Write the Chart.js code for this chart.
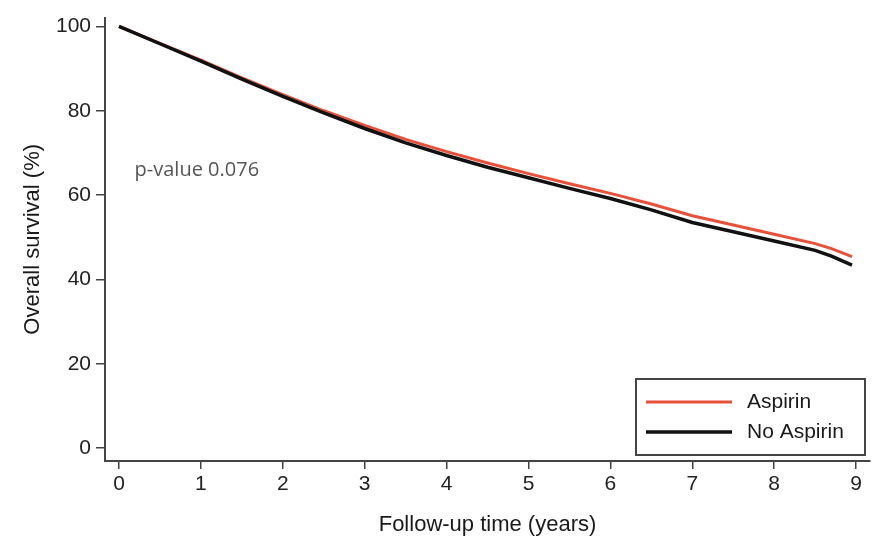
<!DOCTYPE html>
<html>
<head>
<meta charset="utf-8">
<script src="https://cdn.jsdelivr.net/npm/chart.js@4.4.1/dist/chart.umd.min.js"></script>
<style>
  html, body { margin: 0; padding: 0; background: #fff; }
  #wrap { width: 872px; height: 543px; }
</style>
</head>
<body>
<div id="wrap"><canvas id="survChart" width="872" height="543"></canvas></div>
<script>
// Supervivencia global por grupo
const years = [0, 0.5, 1, 1.5, 2, 2.5, 3, 3.5, 4, 4.5, 5, 5.5, 6, 6.5, 7, 7.5, 8, 8.5, 8.7, 8.95];
const aspirin = [100, 96, 92, 87.8, 83.8, 80, 76.5, 73.2, 70.3, 67.6, 65.1, 62.7, 60.4, 57.9, 55.1, 52.9, 50.7, 48.5, 47.3, 45.4];
const noAspirin = [100, 95.9, 91.8, 87.5, 83.4, 79.5, 75.8, 72.4, 69.4, 66.6, 64.1, 61.6, 59.2, 56.5, 53.5, 51.3, 49.1, 46.9, 45.5, 43.4];
const xTicks = [0, 1, 2, 3, 4, 5, 6, 7, 8, 9];
const yTicks = [0, 20, 40, 60, 80, 100];
const seriesLabels = ['Aspirin', 'No Aspirin'];
const pValueText = 'p-value 0.076';

const FONT = '"Liberation Sans", Arial, Helvetica, sans-serif';
const AXIS = '#444';

const toPoints = vals => vals.map((v, i) => ({ x: years[i], y: v }));

// Anotación del p-valor
const pValuePlugin = {
  id: 'pValue',
  afterDatasetsDraw(chart) {
    const { ctx, scales } = chart;
    ctx.save();
    ctx.font = '20px "Open Sans", sans-serif';
    ctx.fillStyle = '#555';
    ctx.textBaseline = 'middle';
    ctx.fillText(pValueText, scales.x.getPixelForValue(0.19), scales.y.getPixelForValue(65.8));
    ctx.restore();
  }
};

// Leyenda dentro del área del gráfico (abajo a la derecha)
const boxLegend = {
  id: 'boxLegend',
  afterDraw(chart) {
    const { ctx, chartArea } = chart;
    const right = chartArea.right - 5, bottom = chartArea.bottom - 6;
    const left = right - 229, top = bottom - 76;
    ctx.save();
    ctx.fillStyle = '#fff';
    ctx.fillRect(left, top, right - left, bottom - top);
    ctx.strokeStyle = AXIS;
    ctx.lineWidth = 2;
    ctx.strokeRect(left, top, right - left, bottom - top);
    ctx.font = '21px ' + FONT;
    ctx.textBaseline = 'middle';
    chart.data.datasets.forEach((ds, i) => {
      const y = top + 23 + i * 30;
      ctx.strokeStyle = ds.borderColor;
      ctx.lineWidth = ds.borderWidth;
      ctx.beginPath();
      ctx.moveTo(left + 10, y);
      ctx.lineTo(left + 96, y);
      ctx.stroke();
      ctx.fillStyle = '#1a1a1a';
      ctx.fillText(ds.label, left + 111, y);
    });
    ctx.restore();
  }
};

new Chart(document.getElementById('survChart'), {
  type: 'line',
  data: {
    datasets: [
      {
        label: seriesLabels[0],
        data: toPoints(aspirin),
        borderColor: '#e8503a',
        borderWidth: 3,
        pointRadius: 0,
        tension: 0,
        order: 1
      },
      {
        label: seriesLabels[1],
        data: toPoints(noAspirin),
        borderColor: '#111',
        borderWidth: 3.5,
        pointRadius: 0,
        tension: 0,
        order: 0
      }
    ]
  },
  options: {
    responsive: false,
    animation: false,
    layout: { padding: { top: 8, right: 2, left: 0, bottom: 0 } },
    plugins: { legend: { display: false }, tooltip: { enabled: false } },
    scales: {
      x: {
        type: 'linear',
        min: -0.171,
        max: 9.17,
        afterBuildTicks: s => { s.ticks = xTicks.map(v => ({ value: v })); },
        afterFit: s => { s.height = 82; },
        grid: { drawOnChartArea: false, drawTicks: true, tickLength: 8, color: AXIS, lineWidth: 1.5 },
        border: { display: true, color: AXIS, width: 2 },
        ticks: { color: '#222', font: { family: FONT, size: 21 }, padding: 3, maxRotation: 0 },
        title: { display: true, text: 'Follow-up time (years)', color: '#1a1a1a', font: { family: FONT, size: 22 }, padding: { top: 0, bottom: 5 } }
      },
      y: {
        min: -3.07,
        max: 102.1,
        afterBuildTicks: s => { s.ticks = yTicks.map(v => ({ value: v })); },
        afterFit: s => { s.width = 105; },
        grid: { drawOnChartArea: false, drawTicks: true, tickLength: 9, color: AXIS, lineWidth: 1.5 },
        border: { display: true, color: AXIS, width: 2 },
        ticks: { color: '#222', font: { family: FONT, size: 21 }, padding: 5 },
        title: { display: true, text: 'Overall survival (%)', color: '#1a1a1a', font: { family: FONT, size: 22 }, padding: { top: 20, bottom: 0 } }
      }
    }
  },
  plugins: [pValuePlugin, boxLegend]
});
</script>
</body>
</html>
